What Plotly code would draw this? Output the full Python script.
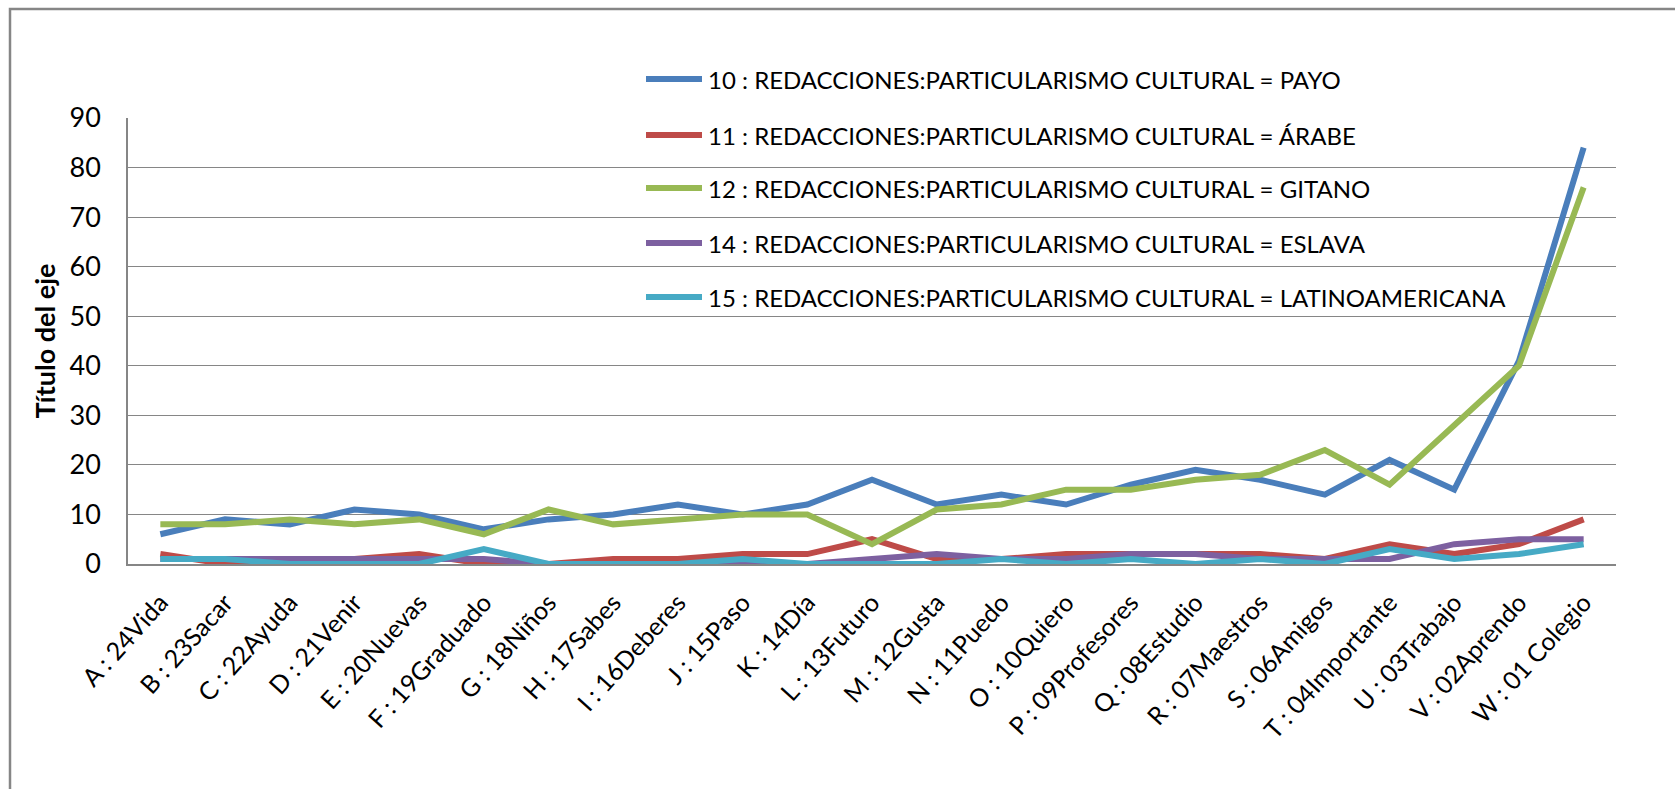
import plotly.graph_objects as go

# Categories (words) and counts per cultural group
categories = [
    "A : 24Vida", "B : 23Sacar", "C : 22Ayuda", "D : 21Venir", "E : 20Nuevas",
    "F : 19Graduado", "G : 18Niños", "H : 17Sabes", "I : 16Deberes", "J : 15Paso",
    "K : 14Día", "L : 13Futuro", "M : 12Gusta", "N : 11Puedo", "O : 10Quiero",
    "P : 09Profesores", "Q : 08Estudio", "R : 07Maestros", "S : 06Amigos",
    "T : 04Importante", "U : 03Trabajo", "V : 02Aprendo", "W : 01 Colegio",
]

payo = [6, 9, 8, 11, 10, 7, 9, 10, 12, 10, 12, 17, 12, 14, 12, 16, 19, 17, 14, 21, 15, 41, 84]
arabe = [2, 0, 1, 1, 2, 0, 0, 1, 1, 2, 2, 5, 1, 1, 2, 2, 2, 2, 1, 4, 2, 4, 9]
gitano = [8, 8, 9, 8, 9, 6, 11, 8, 9, 10, 10, 4, 11, 12, 15, 15, 17, 18, 23, 16, 28, 40, 76]
eslava = [1, 1, 1, 1, 1, 1, 0, 0, 0, 0, 0, 1, 2, 1, 1, 2, 2, 1, 1, 1, 4, 5, 5]
latino = [1, 1, 0, 0, 0, 3, 0, 0, 0, 1, 0, 0, 0, 1, 0, 1, 0, 1, 0, 3, 1, 2, 4]

series_names = [
    "10 : REDACCIONES:PARTICULARISMO CULTURAL = PAYO",
    "11 : REDACCIONES:PARTICULARISMO CULTURAL = ÁRABE",
    "12 : REDACCIONES:PARTICULARISMO CULTURAL = GITANO",
    "14 : REDACCIONES:PARTICULARISMO CULTURAL = ESLAVA",
    "15 : REDACCIONES:PARTICULARISMO CULTURAL = LATINOAMERICANA",
]
series_values = [payo, arabe, gitano, eslava, latino]
series_colors = ["#4A7EBB", "#BE4B48", "#98B954", "#7D60A0", "#46AAC5"]

y_ticks = [0, 10, 20, 30, 40, 50, 60, 70, 80, 90]

FONT = "Lato, 'Open Sans', sans-serif"
LINE_W = 6
W, H = 1675, 789
ML, MR, MT, MB = 128, 59, 118, 225
PW, PH = W - ML - MR, H - MT - MB


def px_x(px):
    return (px - ML) / PW


def px_y(py):
    return 1 - (py - MT) / PH


fig = go.Figure()
for name, vals, col in zip(series_names, series_values, series_colors):
    fig.add_trace(go.Scatter(
        x=categories, y=vals, mode="lines", name=name,
        line=dict(color=col, width=LINE_W), showlegend=False,
    ))

# Legend drawn inside the plotting area, one row per series
shapes = []
annotations = []
row_y = [79, 135, 188, 243, 297]
for name, col, ry in zip(series_names, series_colors, row_y):
    shapes.append(dict(type="line", xref="paper", yref="paper",
                       x0=px_x(646), x1=px_x(702), y0=px_y(ry), y1=px_y(ry),
                       line=dict(color=col, width=LINE_W)))
    annotations.append(dict(text=name, xref="paper", yref="paper",
                            x=px_x(706), y=px_y(ry), xanchor="left", yanchor="middle",
                            showarrow=False, font=dict(family=FONT, size=24, color="#000")))

# Chart area border
shapes.append(dict(type="rect", xref="paper", yref="paper",
                   x0=px_x(10), x1=px_x(1700), y0=px_y(9), y1=px_y(820),
                   line=dict(color="#868686", width=2.5), layer="below"))

fig.update_layout(
    width=W, height=H,
    margin=dict(l=ML, r=MR, t=MT, b=MB),
    paper_bgcolor="white", plot_bgcolor="white",
    shapes=shapes, annotations=annotations,
    font=dict(family=FONT, color="#000"),
    xaxis=dict(
        type="category", range=[-0.5, len(categories) - 0.5],
        showgrid=False, showline=True, linecolor="#868686", linewidth=2,
        tickangle=-48, tickfont=dict(family=FONT, size=25, color="#000"),
        ticks="", ticklabelstandoff=12,
    ),
    yaxis=dict(
        range=[0, 90], tickvals=y_ticks, showgrid=True, gridcolor="#868686", gridwidth=1,
        showline=True, linecolor="#868686", linewidth=1.5, zeroline=False,
        tickfont=dict(family=FONT, size=27, color="#000"), ticks="", ticklabelstandoff=20,
        title=dict(text="<b>Título del eje</b>", font=dict(family=FONT, size=27, color="#000"),
                   standoff=6),
    ),
)

fig.write_html("out.html")
